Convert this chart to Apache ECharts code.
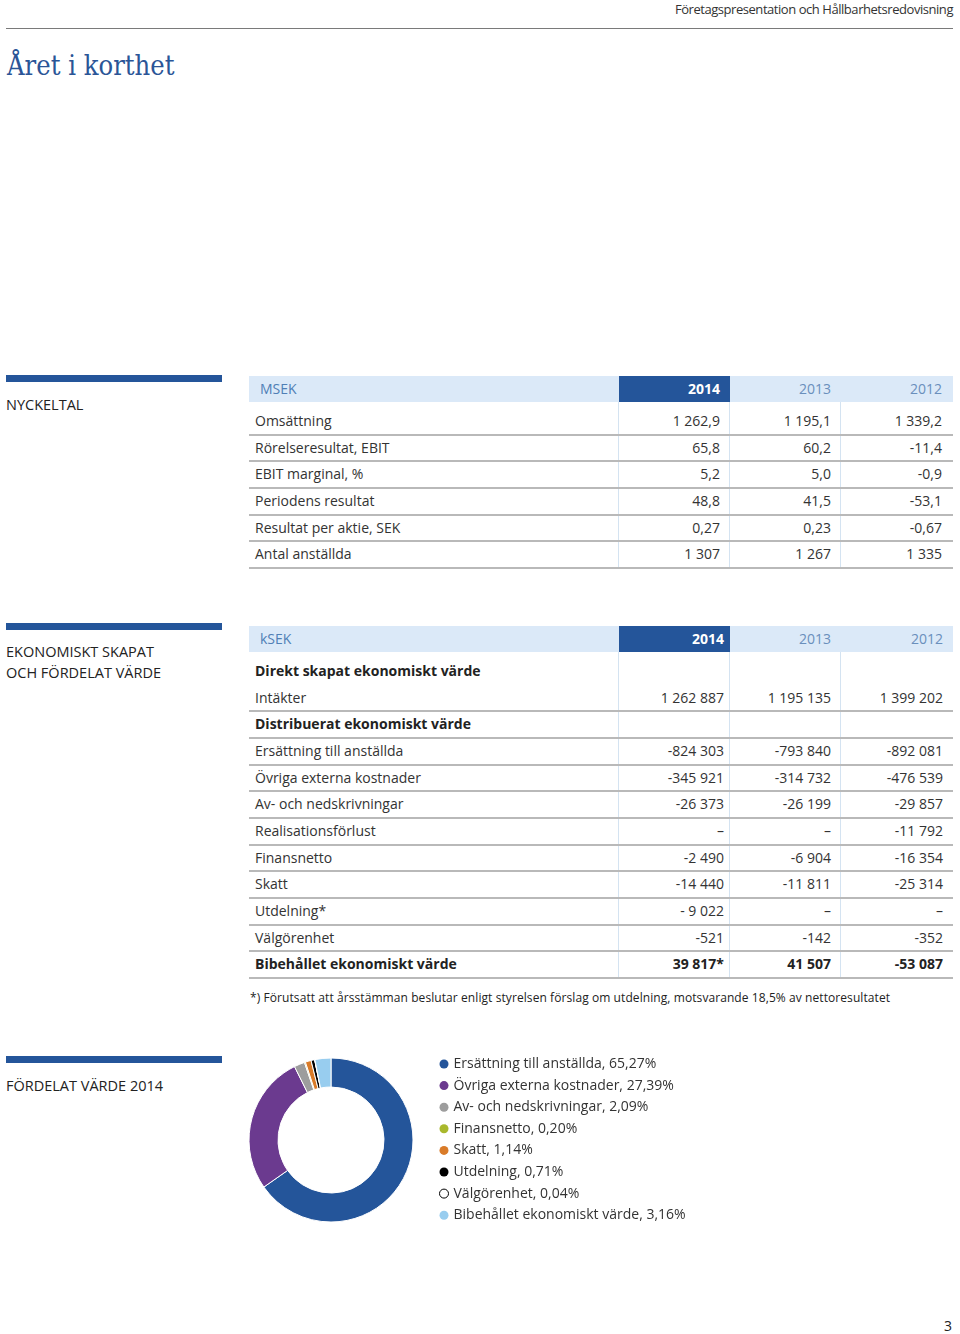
<!DOCTYPE html>
<html>
<head>
<meta charset="utf-8">
<script src="https://cdn.jsdelivr.net/npm/echarts@6/dist/echarts.min.js"></script>
<style>
  body { margin: 0; width: 960px; height: 1334px; position: relative; background: #fff;
         font-family: "Open Sans", sans-serif; color: #333; overflow: hidden; }
  .abs { position: absolute; white-space: nowrap; }
  .bar { position: absolute; left: 6px; width: 216px; height: 7px; background: #24559a; }
  .sect { position: absolute; left: 6px; font-size: 14.5px; line-height: 21px; color: #222; }
</style>
</head>
<body>
<div class="abs" style="right:7px;top:0;font-size:13px;letter-spacing:-0.45px;color:#333">Företagspresentation och Hållbarhetsredovisning</div>
<div class="abs" style="left:6px;top:28px;width:947px;height:1px;background:#7a7a7a"></div>
<div class="abs" style="left:7px;top:50px;font-family:'DejaVu Serif',serif;font-size:28px;line-height:32px;color:#2b5597;transform:scaleX(0.87);transform-origin:0 0">Året i korthet</div>

<div class="bar" style="top:375px"></div>
<div class="sect" style="top:394px">NYCKELTAL</div>
<div class="bar" style="top:623px"></div>
<div class="sect" style="top:641px">EKONOMISKT SKAPAT<br>OCH FÖRDELAT VÄRDE</div>
<div class="bar" style="top:1056px"></div>
<div class="sect" style="top:1075px">FÖRDELAT VÄRDE 2014</div>

<div id="tables"></div>
<div class="abs" style="left:250px;top:989px;font-size:12px;letter-spacing:0.08px;color:#222">*) Förutsatt att årsstämman beslutar enligt styrelsen förslag om utdelning, motsvarande 18,5% av nettoresultatet</div>
<div class="abs" style="left:944px;top:1316px;font-size:14px;color:#222">3</div>

<div id="donut" style="position:absolute;left:240px;top:1045px;width:720px;height:200px"></div>

<script>
// Nyckeltal (MSEK)
const years = ['2014', '2013', '2012'];
const nyckeltalRader = ['Omsättning', 'Rörelseresultat, EBIT', 'EBIT marginal, %', 'Periodens resultat',
  'Resultat per aktie, SEK', 'Antal anställda'];
const nyckeltal2014 = ['1 262,9', '65,8', '5,2', '48,8', '0,27', '1 307'];
const nyckeltal2013 = ['1 195,1', '60,2', '5,0', '41,5', '0,23', '1 267'];
const nyckeltal2012 = ['1 339,2', '-11,4', '-0,9', '-53,1', '-0,67', '1 335'];

// Ekonomiskt skapat och fördelat värde (kSEK)
const vardeRader = ['Direkt skapat ekonomiskt värde', 'Intäkter', 'Distribuerat ekonomiskt värde',
  'Ersättning till anställda', 'Övriga externa kostnader', 'Av- och nedskrivningar', 'Realisationsförlust',
  'Finansnetto', 'Skatt', 'Utdelning*', 'Välgörenhet', 'Bibehållet ekonomiskt värde'];
const vardeFet = [true, false, true, false, false, false, false, false, false, false, false, true];
const varde2014 = ['', '1 262 887', '', '-824 303', '-345 921', '-26 373', '–', '-2 490', '-14 440', '- 9 022', '-521', '39 817*'];
const varde2013 = ['', '1 195 135', '', '-793 840', '-314 732', '-26 199', '–', '-6 904', '-11 811', '–', '-142', '41 507'];
const varde2012 = ['', '1 399 202', '', '-892 081', '-476 539', '-29 857', '-11 792', '-16 354', '-25 314', '–', '-352', '-53 087'];

// Fördelat värde 2014, andel i %
const fordelatNamn = ['Ersättning till anställda', 'Övriga externa kostnader', 'Av- och nedskrivningar',
  'Finansnetto', 'Skatt', 'Utdelning', 'Välgörenhet', 'Bibehållet ekonomiskt värde'];
const fordelatAndel = [65.27, 27.39, 2.09, 0.20, 1.14, 0.71, 0.04, 3.16];
const fordelatFarg = ['#24559a', '#6b3a8f', '#9d9d9d', '#a9b82c', '#d97b29', '#000000', '#ffffff', '#98cdef'];

// tabellerna byggs som absolut placerade rader
const colEdges = [249, 619, 730, 841, 953];

function cell(html, x, y, w, h, css) {
  const d = document.createElement('div');
  d.className = 'abs';
  d.style.cssText = `left:${x}px;top:${y}px;width:${w}px;height:${h}px;line-height:${h}px;${css || ''}`;
  d.innerHTML = html;
  document.getElementById('tables').appendChild(d);
}

function buildTable(t) {
  const W = colEdges[4] - colEdges[0];
  cell('', colEdges[0], t.headTop, W, 26, 'background:#dbe9f8');
  cell(t.unit, colEdges[0], t.headTop, 370, 26, 'box-sizing:border-box;padding-left:11px;font-size:14px;color:#4f7fb6');
  years.forEach((y, i) => {
    const x = colEdges[i + 1], w = colEdges[i + 2] - x;
    const css = i === 0 ? 'background:#24559a;color:#fff;font-weight:bold' : 'color:#6a8fbc';
    cell(y, x, t.headTop, w, 26, `box-sizing:border-box;text-align:right;padding-right:${t.pad[i]}px;font-size:14px;${css}`);
  });
  const n = t.rows.length;
  const bottom = t.rowTop + n * t.rowH;
  // kolumnlinjer
  for (let i = 1; i <= 3; i++) {
    cell('', colEdges[i] - 1, t.headTop + 26, 1, bottom - t.headTop - 26, 'background:#d4e3f1');
  }
  t.rows.forEach((r, k) => {
    const y = t.rowTop + k * t.rowH;
    const fw = t.bold && t.bold[k] ? 'font-weight:bold;color:#222' : '';
    cell(r, colEdges[0], y, 370, t.rowH, `box-sizing:border-box;padding-left:6px;font-size:14px;${fw}`);
    t.cols.forEach((c, i) => {
      const x = colEdges[i + 1], w = colEdges[i + 2] - x;
      cell(c[k], x, y, w, t.rowH, `box-sizing:border-box;text-align:right;padding-right:${t.pad[i]}px;font-size:14px;${fw}`);
    });
    if (!t.noLine || !t.noLine[k]) {
      cell('', colEdges[0], y + t.rowH - 1, W, 2, 'background:#b9b9b9');
    }
  });
}

buildTable({
  unit: 'MSEK', headTop: 376, rowTop: 407.8, rowH: 26.7, pad: [10, 10, 11],
  rows: nyckeltalRader, cols: [nyckeltal2014, nyckeltal2013, nyckeltal2012]
});
buildTable({
  unit: 'kSEK', headTop: 626, rowTop: 658, rowH: 26.67, pad: [6, 10, 10],
  rows: vardeRader, bold: vardeFet, noLine: [true],
  cols: [varde2014, varde2013, varde2012]
});

// ringdiagram
const myChart = echarts.init(document.getElementById('donut'));
const fmt = v => v.toFixed(2).replace('.', ',');
const option = {
  animation: false,
  legend: {
    orient: 'vertical',
    left: 194,
    top: 6,
    icon: 'circle',
    itemWidth: 9,
    itemHeight: 9,
    itemGap: 5.6,
    selectedMode: false,
    textStyle: { fontFamily: 'Open Sans', fontSize: 14, lineHeight: 16, color: '#333' },
    data: fordelatNamn.map((n, i) => n === 'Välgörenhet'
      ? { name: n, itemStyle: { color: '#fff', borderColor: '#000', borderWidth: 1 } }
      : { name: n, itemStyle: { borderWidth: 0 } }),
    formatter: name => name + ', ' + fmt(fordelatAndel[fordelatNamn.indexOf(name)]) + '%'
  },
  series: [
    {
      type: 'pie',
      center: [91, 95],
      radius: [53, 82],
      startAngle: 90,
      clockwise: true,
      silent: true,
      label: { show: false },
      labelLine: { show: false },
      itemStyle: { borderColor: '#fff', borderWidth: 1 },
      data: fordelatNamn.map((n, i) => ({ name: n, value: fordelatAndel[i], itemStyle: { color: fordelatFarg[i] } }))
    }
  ]
};
option && myChart.setOption(option);
</script>
</body>
</html>
